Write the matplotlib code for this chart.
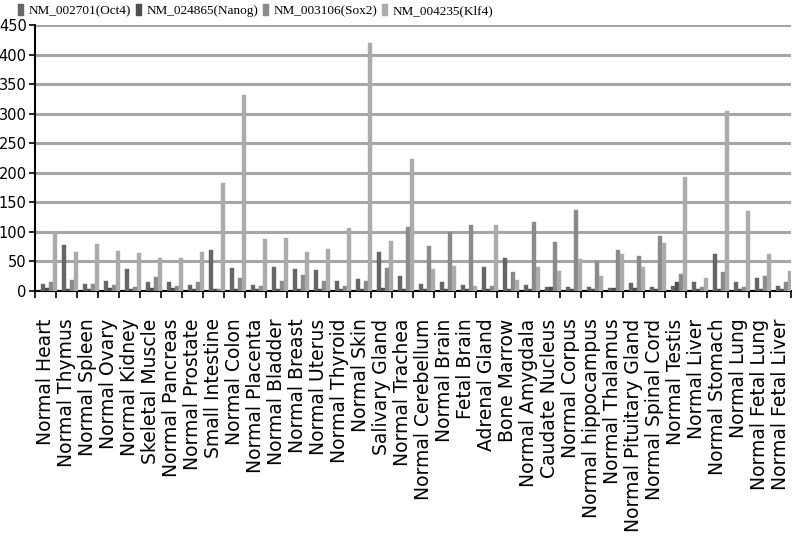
import numpy as np
import matplotlib.pyplot as plt

tissues = ['Normal Heart', 'Normal Thymus', 'Normal Spleen', 'Normal Ovary',
           'Normal Kidney', 'Skeletal Muscle', 'Normal Pancreas', 'Normal Prostate',
           'Small Intestine', 'Normal Colon', 'Normal Placenta', 'Normal Bladder',
           'Normal Breast', 'Normal Uterus', 'Normal Thyroid', 'Normal Skin',
           'Salivary Gland', 'Normal Trachea', 'Normal Cerebellum', 'Normal Brain',
           'Fetal Brain', 'Adrenal Gland', 'Bone Marrow', 'Normal Amygdala',
           'Caudate Nucleus', 'Normal Corpus', 'Normal hippocampus', 'Normal Thalamus',
           'Normal Pituitary Gland', 'Normal Spinal Cord', 'Normal Testis', 'Normal Liver',
           'Normal Stomach', 'Normal Lung', 'Normal Fetal Lung', 'Normal Fetal Liver']

oct4 = [12, 77, 11, 17, 37, 15, 15, 10, 69, 39, 9, 41, 37, 35, 16, 20, 66, 25,
        11, 14, 10, 41, 56, 10, 7, 6, 7, 4, 13, 6, 8, 14, 63, 14, 21, 8]
nanog = [4, 3, 3, 5, 3, 5, 4, 3, 3, 3, 3, 3, 3, 3, 3, 3, 5, 3,
         3, 3, 3, 3, 3, 3, 6, 3, 3, 4, 5, 3, 14, 3, 3, 3, 3, 3]
sox2 = [14, 19, 12, 9, 7, 23, 8, 14, 3, 21, 8, 16, 27, 16, 8, 17, 38, 108,
        75, 100, 112, 8, 31, 117, 82, 136, 50, 69, 58, 93, 29, 6, 31, 7, 25, 15]
klf4 = [102, 66, 79, 67, 64, 55, 56, 65, 182, 332, 87, 90, 65, 71, 107, 419, 85, 224,
        37, 42, 8, 111, 19, 41, 33, 53, 25, 63, 41, 80, 192, 21, 305, 135, 63, 34]

series = [('NM_002701(Oct4)', oct4, '#666666'),
          ('NM_024865(Nanog)', nanog, '#4f4f4f'),
          ('NM_003106(Sox2)', sox2, '#8a8a8a'),
          ('NM_004235(Klf4)', klf4, '#ababab')]

fig = plt.figure(figsize=(7.96, 5.58), dpi=100)
ax = fig.add_axes([0.044, 0.479, 0.950, 0.476])

x = np.arange(len(tissues))
bar_w = 0.17
offsets = [0.38, 0.57, 0.76, 0.95]
for (name, vals, col), off in zip(series, offsets):
    ax.bar(x + off, vals, width=bar_w, color=col, edgecolor=col,
           linewidth=0.3, label=name, zorder=3)

ax.set_xlim(0, len(tissues))
ax.set_ylim(0, 450)
ax.set_yticks(np.arange(0, 451, 50))
ax.yaxis.grid(True, color='#a6a6a6', linewidth=2.2, zorder=0)
ax.set_axisbelow(True)

# category boundaries carry the tick marks, names sit in between
ax.set_xticks(np.arange(len(tissues) + 1))
ax.set_xticklabels([])
ax.set_xticks(x + 0.5, minor=True)
ax.set_xticklabels(tissues, minor=True, rotation=90, fontsize=13.5)
ax.tick_params(axis='x', which='minor', length=0, pad=20)
ax.tick_params(axis='x', which='major', length=5, width=1.2, direction='out')
ax.tick_params(axis='y', length=4, width=1.2, labelsize=10.5, pad=2)

for s in ['top', 'right']:
    ax.spines[s].set_visible(False)
for s in ['left', 'bottom']:
    ax.spines[s].set_linewidth(1.5)

fig.legend(loc='upper left', bbox_to_anchor=(0.008, 1.015), ncol=4,
           frameon=False, prop={'family': 'Liberation Serif', 'size': 9.5},
           handlelength=0.45, handleheight=1.1, handletextpad=0.35,
           columnspacing=0.35)

fig.savefig('out.png', dpi=100)
